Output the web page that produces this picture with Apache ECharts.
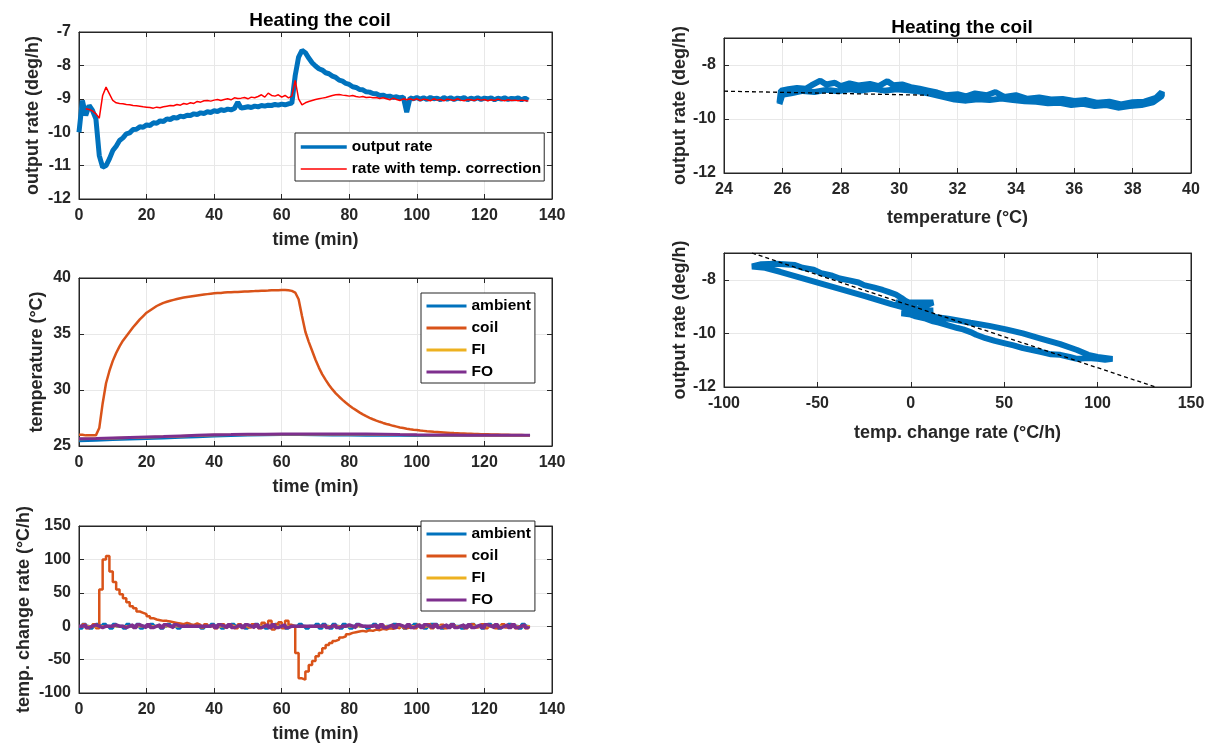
<!DOCTYPE html>
<html>
<head>
<meta charset="utf-8">
<script src="https://cdn.jsdelivr.net/npm/echarts/dist/echarts.min.js"></script>
<style>
  html, body { margin: 0; padding: 0; background: #fff; }
  #main { width: 1210px; height: 749px; }
</style>
</head>
<body>
<div id="main"></div>
<script>
// ---- data ----
var timeMin = [0,1,2,3,4,5,6,7,8,9,10,11,12,13,14,15,16,17,18,19,20,21,22,23,24,25,26,27,28,29,
  30,31,32,33,34,35,36,37,38,39,40,41,42,43,44,45,46,47,48,49,50,51,52,53,54,55,56,57,58,59,
  60,61,62,63,64,65,66,67,68,69,70,71,72,73,74,75,76,77,78,79,80,81,82,83,84,85,86,87,88,89,
  90,91,92,93,94,95,96,97,98,99,100,101,102,103,104,105,106,107,108,109,110,111,112,113,114,115,116,117,118,119,
  120,121,122,123,124,125,126,127,128,129,130,131,132,133];

var outputRate = [-10.0, -9.05, -9.5, -9.2, -9.35, -9.6, -10.7, -11.05, -11.0, -10.8,
  -10.55, -10.42, -10.25, -10.17, -10.05, -10.02, -9.92, -9.91, -9.84, -9.85,
  -9.78, -9.8, -9.72, -9.73, -9.66, -9.68, -9.6, -9.62, -9.56, -9.58,
  -9.52, -9.54, -9.49, -9.5, -9.45, -9.47, -9.42, -9.44, -9.39, -9.41,
  -9.36, -9.38, -9.33, -9.35, -9.31, -9.33, -9.29, -9.1, -9.28, -9.26,
  -9.24, -9.26, -9.22, -9.24, -9.2, -9.22, -9.19, -9.2, -9.17, -9.19,
  -9.16, -9.18, -9.15, -9.13, -8.3, -7.75, -7.55, -7.62, -7.78, -7.92,
  -8.02, -8.1, -8.14, -8.22, -8.25, -8.32, -8.36, -8.44, -8.47, -8.54,
  -8.57, -8.64, -8.66, -8.72, -8.73, -8.79, -8.8, -8.84, -8.85, -8.9,
  -8.89, -8.93, -8.92, -8.96, -8.94, -8.97, -8.95, -9.4, -8.97, -9.0,
  -8.96, -9.01, -8.97, -9.02, -8.96, -9.0, -8.98, -9.03, -8.96, -9.01,
  -8.97, -9.02, -8.98, -9.0, -8.96, -9.03, -8.98, -9.01, -8.97, -9.02,
  -8.98, -9.0, -8.97, -9.03, -8.98, -9.01, -8.97, -9.02, -8.99, -9.0,
  -8.97, -9.03, -8.98, -9.04];

var correctedRate = [null, null, -9.3, -9.32, -9.36, -9.45, -9.58, -8.9, -8.65, -8.85,
  -9.05, -9.12, -9.14, -9.15, -9.17, -9.18, -9.2, -9.21, -9.22, -9.24,
  -9.25, -9.26, -9.28, -9.25, -9.27, -9.24, -9.22, -9.2, -9.21, -9.17,
  -9.19, -9.14, -9.16, -9.12, -9.14, -9.08, -9.1, -9.06, -9.05, -9.07,
  -9.04, -9.02, -9.05, -9.02, -9.0, -9.03, -8.97, -8.99, -8.98, -8.96,
  -9.0, -8.95, -8.97, -8.93, -8.88, -8.95, -8.83, -8.9, -8.92, -8.88,
  -8.95, -8.9, -8.97, -8.92, -8.45, -9.0, -9.18, -9.12, -9.08, -9.05,
  -9.02, -9.0, -8.98, -8.96, -8.93, -8.9, -8.88, -8.87, -8.89, -8.9,
  -8.92, -8.9, -8.93, -8.95, -8.93, -8.96, -8.95, -8.97, -8.96, -8.99,
  -8.97, -9.0, -9.03, -8.98, -9.02, -9.05, -9.0, -9.03, -9.0, -9.04,
  -9.0, -9.05, -9.01, -9.03, -9.06, -9.0, -9.04, -9.02, -9.06, -9.01,
  -9.03, -9.05, -9.0, -9.04, -9.06, -9.02, -9.03, -9.05, -9.01, -9.04,
  -9.02, -9.06, -9.03, -9.05, -9.01, -9.04, -9.06, -9.03, -9.05, -9.04,
  -9.06, -9.04, -9.05, -9.07];

var coilTemp = [26.0, 26.0, 25.95, 25.95, 25.95, 25.95, 26.6, 28.8, 30.6, 31.7,
  32.6, 33.3, 33.9, 34.4, 34.8, 35.2, 35.6, 35.95, 36.3, 36.6,
  36.9, 37.1, 37.3, 37.5, 37.65, 37.78, 37.88, 37.97, 38.05, 38.13,
  38.2, 38.25, 38.3, 38.35, 38.4, 38.44, 38.48, 38.52, 38.56, 38.6,
  38.63, 38.65, 38.67, 38.7, 38.72, 38.73, 38.75, 38.76, 38.78, 38.8,
  38.8, 38.82, 38.83, 38.85, 38.86, 38.87, 38.88, 38.9, 38.9, 38.9,
  38.92, 38.92, 38.9, 38.85, 38.7, 38.1, 36.6, 35.2, 34.3, 33.5,
  32.7, 32.0, 31.4, 30.9, 30.45, 30.05, 29.7, 29.4, 29.12, 28.86,
  28.62, 28.4, 28.2, 28.0, 27.82, 27.66, 27.52, 27.39, 27.27, 27.16,
  27.06, 26.97, 26.89, 26.8, 26.73, 26.66, 26.6, 26.54, 26.49, 26.45,
  26.42, 26.38, 26.35, 26.32, 26.3, 26.27, 26.25, 26.23, 26.21, 26.19,
  26.17, 26.15, 26.14, 26.12, 26.11, 26.1, 26.09, 26.08, 26.07, 26.06,
  26.05, 26.04, 26.03, 26.03, 26.02, 26.01, 26.0, 26.0, 25.99, 25.99,
  25.98, 25.98, 25.97, 25.97];

var slowTime = [0, 5, 10, 15, 20, 25, 30, 35, 40, 45, 50, 55, 60, 65, 70, 75, 80, 85, 90, 95,
  100, 105, 110, 115, 120, 125, 130, 133.5];
var ambientTemp = [25.45, 25.5, 25.55, 25.6, 25.65, 25.7, 25.75, 25.8, 25.88, 25.92, 25.95, 25.98, 26.0, 26.0,
  25.98, 25.96, 25.95, 25.94, 25.93, 25.93, 25.92, 25.92, 25.92, 25.93, 25.93, 25.93, 25.93, 25.93];
var fiTemp = [25.62, 25.66, 25.7, 25.74, 25.78, 25.83, 25.88, 25.93, 25.98, 26.0, 26.03, 26.04, 26.05, 26.05,
  26.05, 26.05, 26.05, 26.05, 26.03, 26.0, 25.98, 25.97, 25.96, 25.95, 25.94, 25.94, 25.93, 25.93];
var foTemp = [25.65, 25.68, 25.72, 25.76, 25.8, 25.84, 25.9, 25.95, 26.0, 26.02, 26.05, 26.06, 26.07, 26.07,
  26.07, 26.07, 26.07, 26.07, 26.05, 26.02, 26.0, 25.99, 25.98, 25.97, 25.96, 25.96, 25.95, 25.95];

var coilRate = [0, 3, -3, 0, 3, -3, 55, 100, 105, 82,
  66, 55, 48, 42, 36, 30, 27, 22, 20, 18,
  15, 12, 10, 9, 8, 8, 7, 6, 5, 4,
  3, 5, 3, 2, 4, 2, -2, 3, 0, 2,
  -3, 0, 3, -2, 2, 0, -3, 3, 0, 2,
  -2, 3, 0, -3, 5, 2, 8, -5, 3, 6,
  -3, 8, 2, 0, -40, -78, -80, -68, -58, -52,
  -45, -40, -33, -28, -25, -22, -20, -17, -15, -12,
  -10, -9, -8, -7, -8, -6, -7, -5, -6, -4,
  -5, -3, -4, -2, -3, 0, -3, -2, 0, -3,
  2, -2, 0, 3, -3, 0, -2, 2, -3, 0,
  3, -2, 0, 2, -3, 0, 3, -2, 0, 3,
  -3, 0, 2, -3, 0, 3, -2, 0, 3, -3,
  0, 2, -3, 0];
var ambientRate = [-3, 3, 0, -3, 0, 3, 0, 3, 0, -3,
  3, 0, 0, -3, 3, 0, 0, 3, -3, 0,
  0, 3, 0, 0, -3, 0, 3, 0, 0, -3,
  0, 0, 3, 0, 0, 0, -3, 0, 0, 3,
  0, 0, -3, 0, 0, 3, 0, 0, 0, -3,
  0, 0, 3, 0, 0, -3, 0, 0, 3, 0,
  0, -3, 0, 0, 0, 3, 0, -3, 0, 0,
  3, -3, 3, 0, -3, 3, 0, -3, 3, 0,
  -3, 0, 3, 0, 0, -3, 0, 3, 0, 0,
  -3, 0, 0, 3, 0, 0, -3, 0, 0, 3,
  0, 0, -3, 0, 3, 3, 0, -3, 0, 0,
  3, 0, 0, -3, 0, 0, 3, 0, 0, -3,
  0, 3, 0, 0, -3, 0, 0, 3, 0, 0,
  -3, 3, 0, -3];
var fiRate = [0, 0, 0, 0, 0, 0, 0, 0, 0, 0, 0, 0, 0, 0, 0, 0, 0, 0, 0, 0, 0, 0, 0, 0, 0, 0, 0, 0];
var foRate = [0, 2, -2, 0, 2, 0, -2, 0, 0, 0,
  2, 0, 0, -2, 0, 2, -2, 2, 0, -2,
  2, -2, 0, 2, -2, 2, 0, -2, 2, 0,
  0, 0, 0, 0, 0, 0, 0, 0, 0, 2,
  -2, 2, 0, -2, 2, -2, 0, 2, -2, 2,
  0, -2, 2, -2, 0, 2, -2, 2, -2, 0,
  2, -2, 0, 0, 0, 0, 0, 0, 0, 0,
  0, 0, 2, -2, 0, 2, -2, 0, 0, 2,
  0, -2, 2, 0, 0, 0, 0, 2, -2, 2,
  -2, 0, 2, -2, 2, 0, -2, 2, -2, 0,
  2, -2, 2, 0, -2, 2, -2, 0, 2, -2,
  2, -2, 0, 2, -2, 2, -2, 0, 2, -2,
  2, 0, -2, 2, -2, 0, 2, -2, 2, -2,
  0, 2, -2, 0];

// output rate vs coil temperature (heating leg, then cooling leg)
var loopTemp = [25.9, 25.95, 26.2, 26.5, 26.8, 27.0, 27.3, 27.5, 27.8, 28.0, 28.3, 28.6, 29.0, 29.3, 29.6, 29.8,
  30.1, 30.4, 30.7, 31.0, 31.3, 31.6, 32.0, 32.3, 32.6, 33.0, 33.3, 33.6, 34.0, 34.4, 34.8, 35.2, 35.6,
  36.0, 36.4, 36.8, 37.2, 37.6, 38.0, 38.4, 38.8, 39.0,
  39.0, 38.7, 38.3, 37.9, 37.5, 37.1, 36.7, 36.3, 35.9, 35.5, 35.1, 34.7, 34.3, 33.9, 33.5, 33.1,
  32.7, 32.3, 31.9, 31.5, 31.1, 30.7, 30.3, 29.9, 29.5, 29.1, 28.7, 28.3, 27.9, 27.5, 27.1, 26.7,
  26.3, 26.0, 25.9];
var loopRate = [-9.4, -8.95, -8.9, -8.85, -8.88, -8.75, -8.58, -8.72, -8.66, -8.78, -8.68, -8.76, -8.7, -8.78, -8.6, -8.75,
  -8.72, -8.82, -8.88, -8.95, -9.02, -9.12, -9.08, -9.16, -9.05, -9.12, -9.0, -9.18, -9.12, -9.25, -9.2, -9.28, -9.26,
  -9.33, -9.3, -9.4, -9.36, -9.46, -9.38, -9.36, -9.22, -9.0,
  -9.15, -9.38, -9.48, -9.52, -9.58, -9.48, -9.52, -9.44, -9.48, -9.4, -9.42, -9.36, -9.34, -9.3, -9.24, -9.3,
  -9.27, -9.32, -9.28, -9.18, -9.08, -8.98, -8.94, -8.9, -8.95, -8.88, -8.95, -8.9, -8.97, -8.92, -9.0, -8.96,
  -9.05, -9.1, -9.45];
var fitTempX = [24, 31];
var fitTempY = [-8.97, -9.12];

// output rate vs coil temperature change rate
var hystRate = [0, 6, 12, 20, 32, 42, 51, 60, 70, 80, 89, 95, 100, 108,
  104, 100, 95, 89, 85, 80, 75, 70, 65, 60, 55, 51, 45, 40, 35, 32, 28, 25, 20, 15, 12, 8, 5, 2, 0,
  -5, 5, 12, -3, 10, 0, 12, -8, 0,
  -10, -25, -40, -55, -70, -78, -85,
  -80, -72, -62, -58, -52, -48, -42, -38, -33, -28, -25, -20, -15, -12, -8, -5, -3, 0, 3, 0];
var hystOutput = [-9.3, -9.3, -9.38, -9.45, -9.6, -9.72, -9.85, -10.0, -10.2, -10.4, -10.62, -10.8, -10.88, -10.95,
  -10.98, -10.95, -10.92, -10.95, -10.88, -10.8, -10.78, -10.7, -10.62, -10.55, -10.45, -10.38, -10.28, -10.18,
  -10.05, -9.95, -9.85, -9.8, -9.7, -9.6, -9.55, -9.45, -9.4, -9.35, -9.3,
  -9.25, -9.2, -9.15, -9.1, -9.05, -9.2, -8.85, -8.85, -9.1,
  -8.92, -8.6, -8.3, -8.0, -7.7, -7.55, -7.5,
  -7.42, -7.4, -7.45, -7.55, -7.62, -7.75, -7.85, -7.95, -8.02, -8.1, -8.2, -8.28, -8.38, -8.45, -8.55,
  -8.68, -8.78, -8.88, -8.95, -9.0];
var fitRateX = [-85, 131];
var fitRateY = [-7.0, -12.0];

// ---- styling ----
var AXC = '#262626';
var GRIDC = '#e8e8e8';
var FONT = 'Liberation Sans, Arial, Helvetica, sans-serif';
var BLUE = '#0072BD', ORANGE = '#D95319', YELLOW = '#EDB120', PURPLE = '#7E2F8E', RED = '#FF0000';

function zip(xs, ys) {
  return xs.map(function (x, i) { return [x, ys[i]]; });
}

var grids = [
  { left: 79, top: 32, width: 473, height: 167 },
  { left: 79, top: 278, width: 473, height: 168 },
  { left: 79, top: 526, width: 473, height: 167 },
  { left: 724, top: 38, width: 467, height: 135 },
  { left: 724, top: 253, width: 467, height: 134 }
];
// [min, max, interval, name, nameGap]
var xSpec = [
  [0, 140, 20, 'time (min)', 32],
  [0, 140, 20, 'time (min)', 32],
  [0, 140, 20, 'time (min)', 32],
  [24, 40, 2, 'temperature (°C)', 36],
  [-100, 150, 50, 'temp. change rate (°C/h)', 37]
];
var ySpec = [
  [-12, -7, 1, 'output rate (deg/h)', 37],
  [25, 40, 5, 'temperature (°C)', 33],
  [-100, 150, 50, 'temp. change rate (°C/h)', 46],
  [-12, -7, 2, 'output rate (deg/h)', 35],
  [-12, -7, 2, 'output rate (deg/h)', 35]
];

var labelStyle = { color: AXC, fontFamily: FONT, fontWeight: 'bold', fontSize: 16 };
var nameStyle = { color: AXC, fontFamily: FONT, fontWeight: 'bold', fontSize: 18 };

var xAxes = [], yAxes = [];
xSpec.forEach(function (s, i) {
  xAxes.push({
    type: 'value', gridIndex: i, position: 'bottom', min: s[0], max: s[1], interval: s[2],
    name: s[3], nameLocation: 'middle', nameGap: s[4], nameTextStyle: nameStyle,
    axisLine: { show: true, onZero: false, lineStyle: { color: AXC, width: 1 } },
    axisTick: { show: true, inside: true, length: 5, lineStyle: { color: AXC } },
    axisLabel: Object.assign({ margin: 9 }, labelStyle),
    splitLine: { show: true, lineStyle: { color: GRIDC, width: 1 } }
  });
});
ySpec.forEach(function (s, i) {
  yAxes.push({
    type: 'value', gridIndex: i, position: 'left', min: s[0], max: s[1], interval: s[2],
    name: s[3], nameLocation: 'middle', nameGap: s[4], nameTextStyle: nameStyle,
    axisLine: { show: true, onZero: false, lineStyle: { color: AXC, width: 1 } },
    axisTick: { show: true, inside: true, length: 5, lineStyle: { color: AXC } },
    axisLabel: Object.assign({ margin: 8, showMaxLabel: i < 3 }, labelStyle),
    splitLine: { show: true, lineStyle: { color: GRIDC, width: 1 } }
  });
});
// mirrored box axes (top / right) carrying inside ticks only
xSpec.forEach(function (s, i) {
  xAxes.push({
    type: 'value', gridIndex: i, position: 'top', min: s[0], max: s[1], interval: s[2],
    axisLine: { show: true, onZero: false, lineStyle: { color: AXC, width: 1 } },
    axisTick: { show: true, inside: true, length: 5, lineStyle: { color: AXC } },
    axisLabel: { show: false }, splitLine: { show: false }
  });
});
ySpec.forEach(function (s, i) {
  yAxes.push({
    type: 'value', gridIndex: i, position: 'right', min: s[0], max: s[1], interval: s[2],
    axisLine: { show: true, onZero: false, lineStyle: { color: AXC, width: 1 } },
    axisTick: { show: true, inside: true, length: 5, lineStyle: { color: AXC } },
    axisLabel: { show: false }, splitLine: { show: false }
  });
});

function line(name, gi, data, color, width, extra) {
  return Object.assign({
    name: name, type: 'line', xAxisIndex: gi, yAxisIndex: gi, data: data,
    symbol: 'none', showSymbol: false, animation: false, clip: true,
    lineStyle: { color: color, width: width }, itemStyle: { color: color },
    emphasis: { disabled: true }
  }, extra || {});
}

var dashed = { color: '#000', width: 1.3, type: [4, 3] };
var series = [
  line('output rate', 0, zip(timeMin, outputRate), BLUE, 5),
  line('rate with temp. correction', 0, zip(timeMin, correctedRate), RED, 1.5),

  line('ambient', 1, zip(slowTime, ambientTemp), BLUE, 2.5),
  line('coil', 1, zip(timeMin, coilTemp), ORANGE, 2.5),
  line('FI', 1, zip(slowTime, fiTemp), YELLOW, 2.5),
  line('FO', 1, zip(slowTime, foTemp), PURPLE, 3),

  line('ambient', 2, zip(timeMin, ambientRate), BLUE, 3, { step: 'end' }),
  line('coil', 2, zip(timeMin, coilRate), ORANGE, 2.5, { step: 'end' }),
  line('FI', 2, zip(slowTime, fiRate), YELLOW, 2.5),
  line('FO', 2, zip(timeMin, foRate), PURPLE, 3.5, { step: 'end' }),

  line('loop', 3, zip(loopTemp, loopRate), BLUE, 6),
  line('fit1', 3, zip(fitTempX, fitTempY), '#000', 1.3, { lineStyle: dashed }),

  line('hyst', 4, zip(hystRate, hystOutput), BLUE, 6),
  line('fit2', 4, zip(fitRateX, fitRateY), '#000', 1.3, { lineStyle: dashed })
];

var legendText = { color: '#000', fontFamily: FONT, fontWeight: 'bold', fontSize: 15.5 };
function legend(items, left, top, itemWidth, padding) {
  return {
    data: items, orient: 'vertical', left: left, top: top,
    itemWidth: itemWidth, itemHeight: 14, itemGap: 6, padding: padding,
    borderColor: AXC, borderWidth: 1, backgroundColor: '#fff',
    itemStyle: { opacity: 0 },
    textStyle: legendText, selectedMode: false
  };
}
function item(name, w) {
  return { name: name, lineStyle: { width: w } };
}
var tempItems = [item('ambient', 3), item('coil', 3), item('FI', 3), item('FO', 3)];

var option = {
  backgroundColor: '#fff',
  animation: false,
  title: [
    { text: 'Heating the coil', left: 315, top: 6, textAlign: 'center',
      textStyle: { color: '#000', fontFamily: FONT, fontWeight: 'bold', fontSize: 19 } },
    { text: 'Heating the coil', left: 957, top: 13, textAlign: 'center',
      textStyle: { color: '#000', fontFamily: FONT, fontWeight: 'bold', fontSize: 19 } }
  ],
  legend: [
    legend([item('output rate', 3.5), item('rate with temp. correction', 1.5)], 295, 133, 46, [6, 3, 4, 4]),
    legend(tempItems, 421, 293, 40, [5, 4, 3, 4]),
    legend(tempItems, 421, 521, 40, [5, 4, 3, 4])
  ],
  grid: grids.map(function (g) {
    return Object.assign({ show: true, borderColor: AXC, borderWidth: 1, backgroundColor: '#fff' }, g);
  }),
  xAxis: xAxes,
  yAxis: yAxes,
  series: series
};

var chart = echarts.init(document.getElementById('main'), null, { renderer: 'canvas' });
chart.setOption(option);
</script>
</body>
</html>
